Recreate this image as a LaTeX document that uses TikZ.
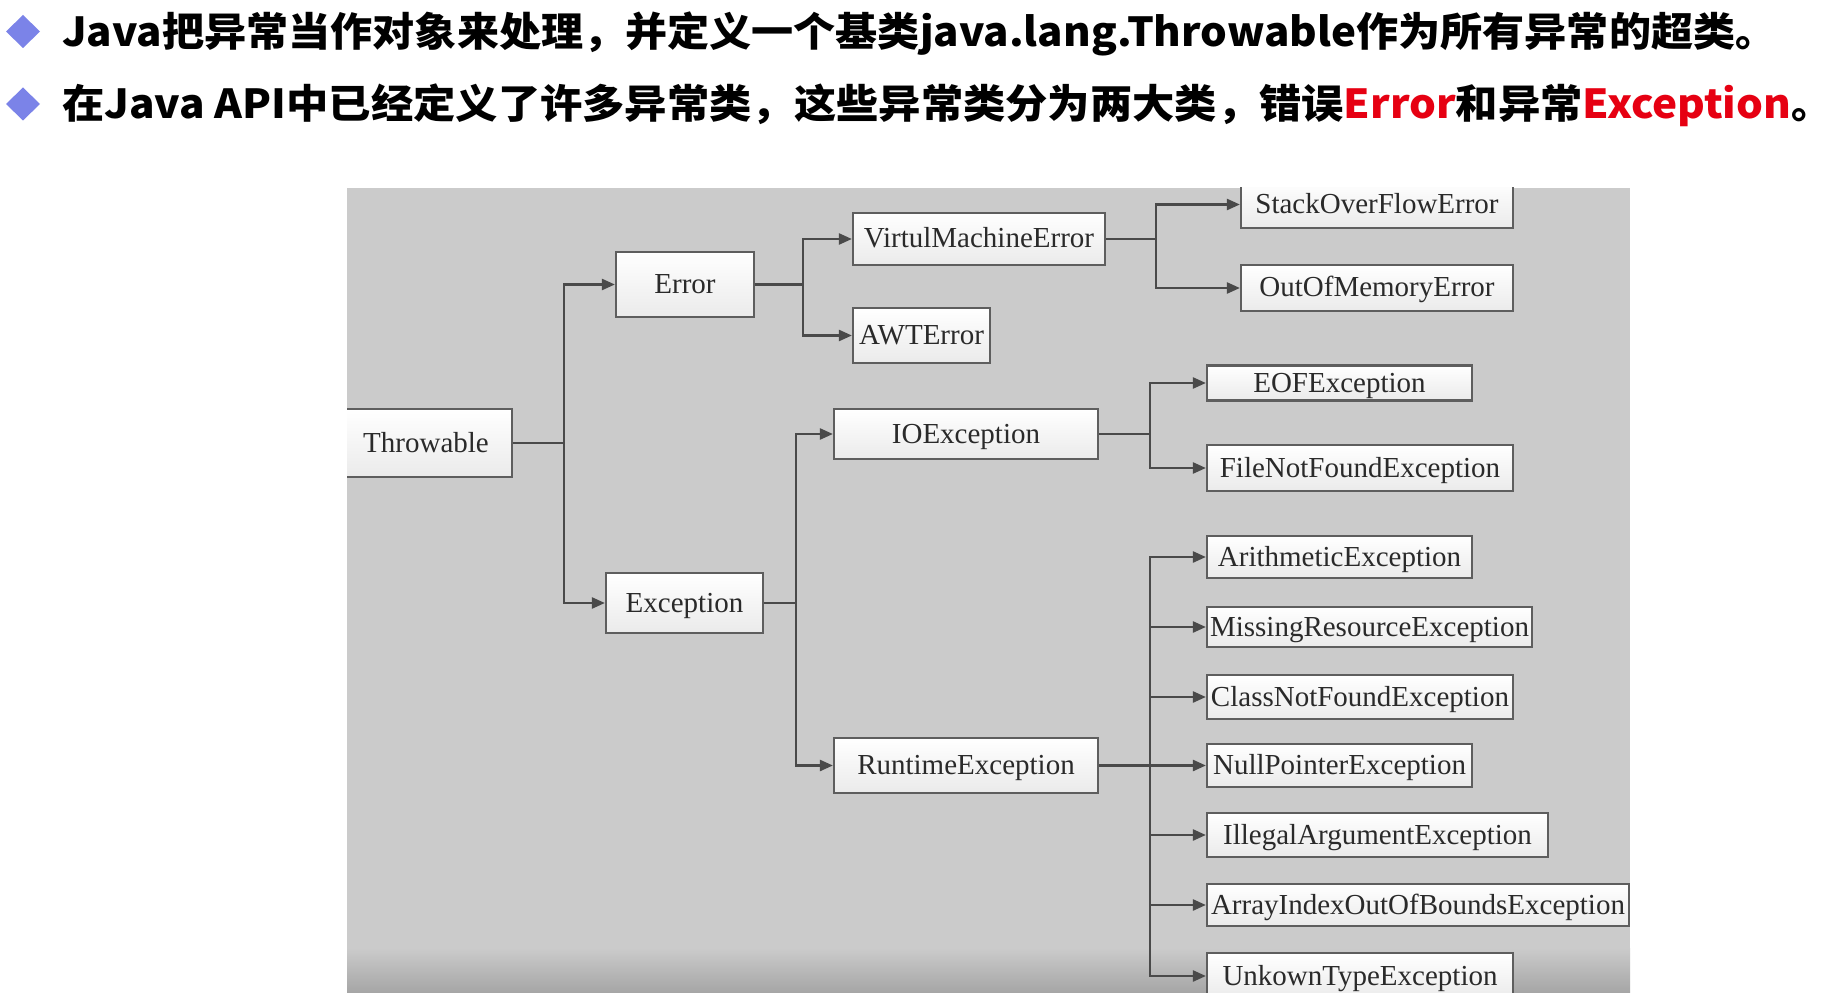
\documentclass[tikz,border=0pt]{standalone}
\usepackage{fontspec}
\usepackage{graphicx}
\setmainfont{Liberation Serif}
\newfontfamily\cjk{Noto Sans CJK SC}
\usetikzlibrary{arrows.meta}
\definecolor{bg}{HTML}{CBCBCB}
\definecolor{bgdark}{HTML}{A6A6A6}
\definecolor{bul}{HTML}{7B83E8}
\definecolor{hred}{HTML}{E60012}
\definecolor{edgec}{HTML}{4A4A4A}
\definecolor{bord}{HTML}{5E5E5E}
\definecolor{txt}{HTML}{2A2A2A}
\tikzset{
  cls/.style={draw=bord, line width=2.2pt, top color=white, bottom color=black!8,
    inner sep=0pt, text=txt, font=\fontsize{29}{34}\selectfont,
    text height=22pt, text depth=4pt},
  arr/.style={draw=edgec, line width=2.4pt, line join=miter,
    -{Triangle[length=13pt,width=11pt]}},
  hdr/.style={inner sep=0pt, anchor=base west, font=\cjk\bfseries\fontsize{40}{48}\selectfont}
}
\begin{document}
\begin{tikzpicture}[x=1pt,y=-1pt]
\useasboundingbox (0,0) rectangle (1821,1008);
\fill[white] (0,0) rectangle (1821,1008);
% bullets
\fill[bul] (6,31.5) -- (23,15) -- (40,31.5) -- (23,48) -- cycle;
\fill[bul] (6,104) -- (23,87.5) -- (40,104) -- (23,120.5) -- cycle;
% header lines
\node[hdr] (l1) at (62,46.5) {\resizebox{1673pt}{\height}{Java把异常当作对象来处理，并定义一个基类java.lang.Throwable作为所有异常的超类}\makebox[16pt][l]{。}};
\node[hdr] (l2) at (62,119) {\resizebox{1729pt}{\height}{在Java API中已经定义了许多异常类，这些异常类分为两大类，错误\textcolor{hred}{Error}和异常\textcolor{hred}{Exception}}\makebox[16pt][l]{。}};
% background panel
\fill[bg] (347,188) rectangle (1630,992);
\shade[top color=bg, bottom color=bgdark] (347,948) rectangle (1630,992);
\begin{scope}
\clip (347,188) rectangle (1630,992);
\node[cls, minimum width=172pt, minimum height=68pt] (thr) at (426,443) {Throwable};
\node[cls, minimum width=138pt, minimum height=65pt] (err) at (685,284.5) {Error};
\node[cls, minimum width=157pt, minimum height=60pt] (exc) at (684.5,603) {Exception};
\node[cls, minimum width=252pt, minimum height=52pt] (vme) at (979,239) {VirtulMachineError};
\node[cls, minimum width=137pt, minimum height=55pt] (awt) at (921.5,335.5) {AWTError};
\node[cls, minimum width=272pt, minimum height=47pt] (sofe) at (1377,204.5) {StackOverFlowError};
\node[cls, minimum width=272pt, minimum height=46pt] (oome) at (1377,288) {OutOfMemoryError};
\node[cls, minimum width=264pt, minimum height=50pt] (ioe) at (966,434) {IOException};
\node[cls, minimum width=265pt, minimum height=35pt] (eof) at (1339.5,383) {EOFException};
\node[cls, minimum width=306pt, minimum height=46pt] (fnf) at (1360,468) {FileNotFoundException};
\node[cls, minimum width=264pt, minimum height=55pt] (rte) at (966,765.5) {RuntimeException};
\node[cls, minimum width=265pt, minimum height=42pt] (ari) at (1339.5,557) {ArithmeticException};
\node[cls, minimum width=325pt, minimum height=40pt] (mis) at (1369.5,627) {MissingResourceException};
\node[cls, minimum width=306pt, minimum height=44pt] (cnf) at (1360,697) {ClassNotFoundException};
\node[cls, minimum width=265pt, minimum height=43pt] (npe) at (1339.5,765.5) {NullPointerException};
\node[cls, minimum width=341pt, minimum height=44pt] (iae) at (1377.5,835) {IllegalArgumentException};
\node[cls, minimum width=422pt, minimum height=42pt] (aio) at (1418,905) {ArrayIndexOutOfBoundsException};
\node[cls, minimum width=306pt, minimum height=46pt] (ukn) at (1360,976) {UnkownTypeException};
% connectors
\draw[arr] (thr.east) -- ++(51,0) |- (err.west);
\draw[arr] (thr.east) -- ++(51,0) |- (exc.west);
\draw[arr] (err.east) -- ++(48,0) |- (vme.west);
\draw[arr] (err.east) -- ++(48,0) |- (awt.west);
\draw[arr] (vme.east) -- ++(50,0) |- (sofe.west);
\draw[arr] (vme.east) -- ++(50,0) |- (oome.west);
\draw[arr] (exc.east) -- ++(32,0) |- (ioe.west);
\draw[arr] (exc.east) -- ++(32,0) |- (rte.west);
\draw[arr] (ioe.east) -- ++(51,0) |- (eof.west);
\draw[arr] (ioe.east) -- ++(51,0) |- (fnf.west);
\foreach \t in {ari,mis,cnf,npe,iae,aio,ukn}
  \draw[arr] (rte.east) -- ++(51,0) |- (\t.west);
\end{scope}
\end{tikzpicture}
\end{document}
